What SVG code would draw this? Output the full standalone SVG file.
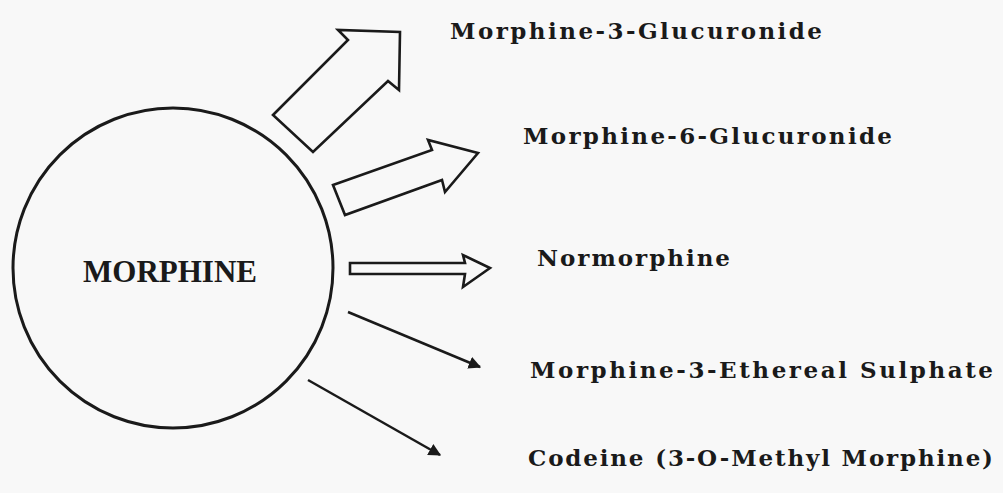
<svg xmlns="http://www.w3.org/2000/svg" width="1003" height="493" viewBox="0 0 1003 493">
<style>
.bg{fill:#f8f8f8}
.node{fill:none;stroke:#1a1a1a;stroke-width:3}
.lbl{font-family:"DejaVu Serif","Liberation Serif",serif;font-size:23px;font-weight:bold;fill:#1a1a1a}
.main{font-family:"Liberation Serif","DejaVu Serif",serif;font-size:31px;font-weight:bold;fill:#1a1a1a}
.hollow{fill:none;stroke:#1a1a1a;stroke-width:2.6;stroke-linejoin:miter}
.line{stroke:#1a1a1a;stroke-width:2.5;fill:none}
</style>
<defs>
<marker id="ah" viewBox="0 0 10 10" refX="9" refY="5" markerWidth="5" markerHeight="5" markerUnits="strokeWidth" orient="auto">
<path d="M0,0 L10,5 L0,10 z" fill="#1a1a1a"/>
</marker>
</defs>
<rect class="bg" x="0" y="0" width="1003" height="493"/>
<g id="morphine">
<circle class="node" cx="173" cy="268" r="160"/>
<text class="main" x="83" y="282" textLength="174" lengthAdjust="spacingAndGlyphs">MORPHINE</text>
</g>
<g id="connectors">
<polygon class="hollow" points="273,115 348,40 338,30 400,32 399,90 388,81 313,152"/>
<polygon class="hollow" points="333,185 432,150 428,140 478,153 445,192 442,180 345,215"/>
<polygon class="hollow" points="350,263 465,263 463,255 490,268 463,287 465,274 350,274"/>
<line class="line" x1="348" y1="312" x2="480" y2="367" marker-end="url(#ah)"/>
<line class="line" x1="308" y1="380" x2="440" y2="455" marker-end="url(#ah)"/>
</g>
<g id="m3g"><text class="lbl" x="450" y="39" textLength="372" lengthAdjust="spacing">Morphine-3-Glucuronide</text></g>
<g id="m6g"><text class="lbl" x="523" y="144" textLength="369" lengthAdjust="spacing">Morphine-6-Glucuronide</text></g>
<g id="normorphine"><text class="lbl" x="537" y="266" textLength="193" lengthAdjust="spacing">Normorphine</text></g>
<g id="m3es"><text class="lbl" x="530" y="378" textLength="463" lengthAdjust="spacing">Morphine-3-Ethereal  Sulphate</text></g>
<g id="codeine"><text class="lbl" x="528" y="466" textLength="465" lengthAdjust="spacing">Codeine (3-O-Methyl  Morphine)</text></g>
</svg>
